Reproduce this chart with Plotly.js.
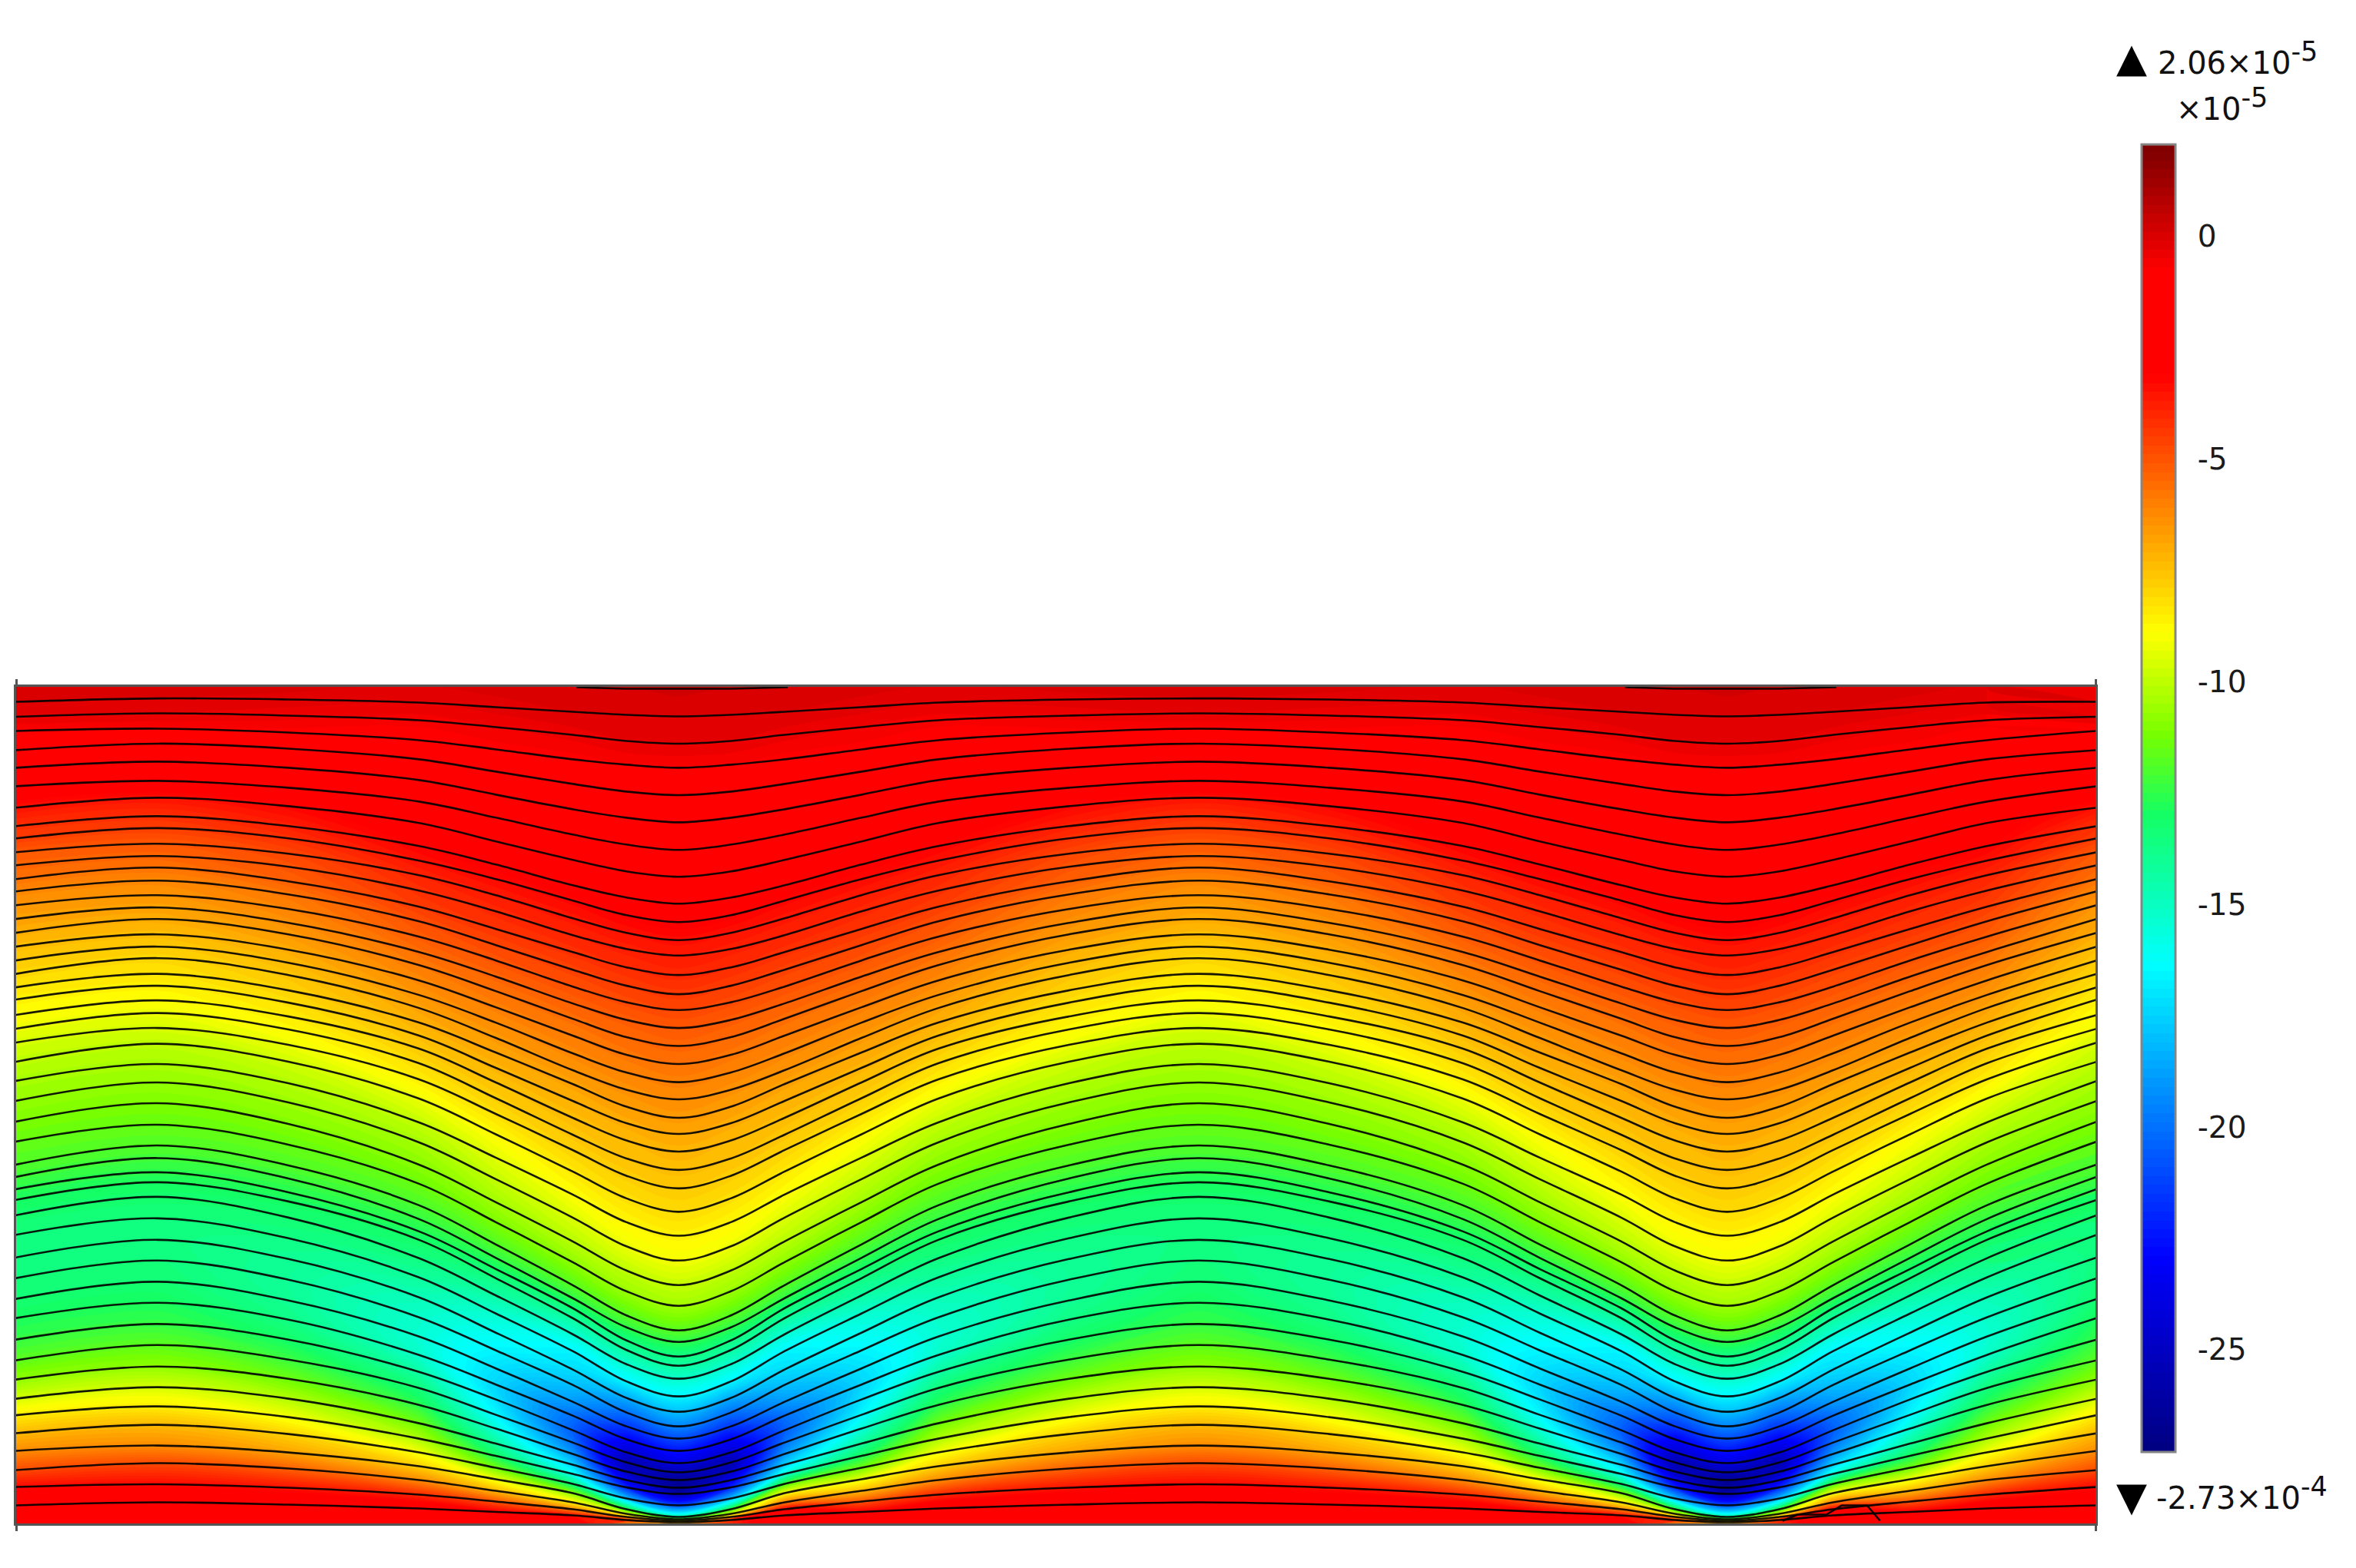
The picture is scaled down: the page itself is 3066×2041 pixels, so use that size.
<!DOCTYPE html>
<html>
<head>
<meta charset="utf-8">
<script src="https://cdn.plot.ly/plotly-3.0.1.min.js"></script>
<style>html,body{margin:0;padding:0;background:#fff}#chart{width:3066px;height:2041px}</style>
</head>
<body>
<div id="chart"></div>
<script>
// Horizontal stations along the domain
const stationX = [20,205,375,545,645,745,815,883,951,1021,1121,1221,1391,1560,1730,1904,2004,2110,2180,2248,2316,2386,2486,2586,2729];

// Vertical position of each of the 49 streamlines at the repeating stations
const lineEdge = [913,932.5,951,976,999,1023,1051,1075,1091,1109,1126,1144,1160,1178,1196,1214,1232,1250,1267.5,1285,1301,1321,1339,1357,1382,1407,1433,1460,1486,1516,1532,1548,1562,1582,1607.5,1637,1664,1691,1716,1744,1771,1796,1821,1842.5,1866,1889,1914,1936,1960];
const linePeak = [908.6,928,948,967.5,991,1016,1038,1062,1077.5,1098,1114,1129,1146,1165,1181,1196,1216,1232,1247,1267.5,1283,1302,1318.5,1338,1358.6,1385,1409,1436,1464,1491,1507.5,1526,1539,1558,1586,1614,1641,1668.6,1696,1723.6,1751,1779,1806,1831,1855,1882,1905,1932.5,1956];
const lineUpper = [910,931,953,974,999,1025,1049,1075,1091,1111,1128,1147,1164,1183,1201,1216,1236,1253,1269,1289,1305,1323,1340,1360,1382,1410,1435,1463,1490,1517,1534,1552,1564,1585,1612,1639,1666,1693,1718,1744,1770,1795,1821,1845,1867,1891,1912,1937,1959];
const lineFlank = [914,937,963,988,1015,1043,1071,1101,1120,1139,1159,1180,1199,1219,1239,1256,1276,1295,1312,1331,1348,1365,1384,1405,1430,1461,1487,1516,1541,1569,1587,1603,1614,1638,1663,1689,1715,1740,1764,1786,1807,1829,1853,1873,1891,1909,1927,1946,1964];
const lineLower = [920,946,975,1004,1034,1064,1095,1125,1144,1165,1186,1209,1230,1250,1271,1290,1311,1331,1351,1370,1390,1409,1429.5,1450,1476.5,1507,1535,1565,1591,1620,1637.5,1652,1664,1686.5,1710,1735,1758,1781.5,1802.5,1822,1842,1860,1879.5,1895.5,1911,1926,1941,1955,1968.5];
const lineShoulder = [926,956,988,1020,1053,1086,1119,1152,1172,1195,1217,1239,1262,1284,1306,1326,1348,1371,1393,1411,1433,1455,1477,1497,1525,1555,1585,1616,1643,1673,1690,1703,1716,1737,1759,1783,1803,1825,1843,1862,1878,1893,1907,1919,1932,1944,1956,1965,1973];
const lineInner = [930,964,995,1030,1064,1099,1134,1168,1191,1214,1235,1259,1283,1304.5,1327.5,1350,1373,1396,1418.5,1440.5,1462,1484.5,1508,1530.5,1560,1591,1622.5,1654,1681,1712.5,1728,1745,1757.5,1776,1798.5,1820,1839,1857,1874,1891,1904,1916,1927,1936.5,1951,1965,1971,1975,1979];
const lineTrough = [932,967.5,999,1034.6,1070,1106,1141,1176,1200,1223.6,1243.6,1269,1294,1314.6,1338,1361.4,1385,1408.6,1431,1455,1476,1499,1523,1547,1577.5,1608.6,1641,1673,1700,1732,1747,1766,1778,1795,1818,1838,1857,1873,1889,1905,1917,1927,1937,1945,1960,1975,1978,1980,1982];

// Field value (in units of 1e-5) on each streamline at the same stations
const valPeak = [-0.1,-0.3,-0.7,-1.2,-1.6,-2.3,-3.5,-4.2,-4.5,-5.1,-5.4,-5.7,-6.2,-6.5,-6.8,-7,-7.4,-7.7,-8,-8.3,-8.6,-8.9,-9.2,-9.6,-10,-10.4,-10.7,-11.1,-11.5,-11.9,-12.2,-12.6,-12.9,-13.2,-13.5,-13.6,-13.5,-13.3,-12.9,-12.4,-11.7,-10.8,-9.6,-8.5,-7.3,-6.3,-4.8,-3.3,-2];
const valUpper = [-0.2,-0.4,-0.8,-1.2,-1.6,-2.2,-3.2,-3.8,-4.2,-4.7,-5,-5.3,-5.8,-6.1,-6.4,-6.6,-7,-7.3,-7.6,-7.9,-8.2,-8.5,-8.8,-9.2,-9.7,-10.2,-10.6,-11,-11.5,-11.9,-12.3,-12.7,-13,-13.3,-13.7,-14,-14.1,-14,-13.7,-13.1,-12.3,-11.4,-10.2,-9.1,-7.9,-6.8,-5.3,-3.5,-2.1];
const valFlank = [-0.3,-0.6,-0.9,-1.2,-1.5,-2,-2.6,-3.1,-3.5,-3.9,-4.2,-4.5,-4.9,-5.2,-5.6,-5.9,-6.2,-6.5,-6.8,-7.1,-7.4,-7.7,-8.1,-8.5,-9.2,-9.9,-10.4,-10.9,-11.4,-12,-12.4,-12.8,-13.1,-13.6,-14.2,-14.8,-15.2,-15.4,-15.2,-14.4,-13.5,-12.6,-11.4,-10.3,-9.1,-7.8,-6.3,-4,-2.4];
const valLower = [-0.2,-0.5,-0.8,-1.1,-1.4,-1.9,-2.4,-2.9,-3.3,-3.7,-4,-4.3,-4.7,-5,-5.4,-5.7,-6,-6.3,-6.6,-6.9,-7.2,-7.5,-7.8,-8.2,-8.8,-9.4,-9.9,-10.5,-11.1,-11.9,-12.5,-13.1,-13.6,-14.4,-15.3,-16,-16.6,-17.1,-17.4,-17.1,-16.5,-15.5,-14.2,-12.9,-11.3,-9.2,-7.3,-5,-3];
const valShoulder = [-0.1,-0.4,-0.8,-1.1,-1.4,-1.8,-2.2,-2.7,-3.2,-3.6,-3.9,-4.2,-4.6,-4.9,-5.3,-5.6,-5.9,-6.2,-6.5,-6.8,-7.1,-7.4,-7.6,-7.9,-8.4,-8.9,-9.5,-10.1,-10.8,-11.8,-12.5,-13.4,-14.2,-15.4,-16.6,-17.2,-18,-19,-20,-20.5,-20,-19,-17.5,-16,-13.5,-11,-8.6,-6.2,-3.5];
const valShoulderRightLow = [-15.5,-12,-9,-6,-3,-1.7]; // lines 44 to 49 on the right of a trough
const valInner = [-0.1,-0.3,-0.7,-1,-1.3,-1.7,-2,-2.4,-3,-3.5,-3.8,-4.1,-4.5,-4.8,-5.2,-5.5,-5.8,-6.1,-6.4,-6.7,-7,-7.3,-7.5,-7.8,-8.2,-8.7,-9.2,-10,-10.6,-11.8,-12.5,-13.6,-14.3,-15.3,-16.6,-18.5,-20,-21.5,-23,-24.5,-25.5,-25,-23.5,-22,-18,-12,-9.5,-7,-4];
const valTrough = [-0.1,-0.3,-0.7,-1,-1.3,-1.6,-1.9,-2.3,-2.9,-3.4,-3.7,-4,-4.4,-4.7,-5.1,-5.4,-5.7,-6,-6.3,-6.6,-6.9,-7.2,-7.4,-7.7,-8.1,-8.6,-9.1,-9.9,-10.5,-11.8,-12.5,-13.7,-14.3,-15.2,-16.6,-18,-19.5,-21,-22.5,-24,-25.5,-26.5,-26.8,-26,-21,-14,-11,-9,-8];
// Field value along the top and bottom boundary: edge, peak, upper, flank, lower, shoulder, inner, trough
const valTop = [0,0,0,-0.1,0,0.1,0.1,0.2];
const valBottom = [-1.5,-1.5,-1.5,-1.5,-1.5,-2,-6.5,-7];
const valBottomInnerRight = -4;

// Small features
const capLeftX = [750,813,950,1025], capLeftY = [894,896,896,894];
const capRightX = [2115,2178,2315,2390], capRightY = [894,896,896,894];
const bumpX = [2320,2340,2377,2397,2430,2447], bumpY = [1980,1972,1972,1960,1960,1980];

// Colour bar
const zMin = -27.3, zMax = 2.06;
const tickVals = [0,-5,-10,-15,-20,-25];
const tickText = ['0','-5','-10','-15','-20','-25'];
const stopVals = [-27.3,-22.9,-16.3,-12.9,-11.1,-8.8,-3,-0.65,2.06];
const stopCols = ['rgb(0,0,128)','rgb(0,0,255)','rgb(0,255,255)','rgb(20,255,100)','rgb(120,255,0)','rgb(255,255,0)','rgb(255,0,0)','rgb(255,0,0)','rgb(128,0,0)'];

// Plot frame, in page pixels
const L = 20.5, R = 2727.5, T = 893.5, B = 1983.5;
const px = v => (v - L) / (R - L);
const py = v => (B - v) / (B - T);

const expand = (e,p,q,m,r,n,s,t,nr,sr) => [e,p,q,m,r,n,s,t,sr,nr,r,m,q,p,q,m,r,n,s,t,sr,nr,r,m,e];
const nLines = linePeak.length;
const lineRow = r => expand(lineEdge[r],linePeak[r],lineUpper[r],lineFlank[r],lineLower[r],lineShoulder[r],lineInner[r],lineTrough[r],lineShoulder[r],lineInner[r]);
const xGrid = [], yGrid = [], zGrid = [];
for (let r = -1; r <= nLines; r++) {
  xGrid.push(stationX);
  if (r === -1) {
    yGrid.push(stationX.map(() => 892));
    zGrid.push(expand(...valTop, valTop[5], valTop[6]));
  } else if (r === nLines) {
    yGrid.push(stationX.map(() => 1985));
    zGrid.push(expand(...valBottom, valBottom[5], valBottomInnerRight));
  } else {
    yGrid.push(lineRow(r));
    const low = r - (nLines - valShoulderRightLow.length);
    const nRight = low >= 0 ? valShoulderRightLow[low] : valShoulder[r];
    zGrid.push(expand(valPeak[r],valPeak[r],valUpper[r],valFlank[r],valLower[r],valShoulder[r],valInner[r],valTrough[r],nRight,valInner[r]));
  }
}
const aVals = stationX.map((_, i) => i);
const bVals = xGrid.map((_, i) => i);
const hiddenAxis = {showgrid:false, showline:false, showticklabels:'none', startline:false, endline:false, minorgridcount:0, smoothing:1, tickmode:'array', tickvals:[]};

const traces = [
  {type:'carpet', carpet:'field', a:aVals, b:bVals, x:xGrid, y:yGrid, aaxis:hiddenAxis, baxis:hiddenAxis, xaxis:'x', yaxis:'y'},
  {type:'contourcarpet', carpet:'field', a:aVals, b:bVals, z:zGrid, zauto:false, zmin:zMin, zmax:zMax,
   autocontour:false, contours:{start:zMin, end:zMax, size:0.2, coloring:'fill', showlines:false}, line:{width:0},
   colorscale: stopVals.map((v,i) => [(v - zMin)/(zMax - zMin), stopCols[i]]),
   colorbar:{thickness:44, thicknessmode:'pixels', len:1702, lenmode:'pixels', x:px(2788), xanchor:'left', xpad:0, y:py(187), yanchor:'top', ypad:0,
     outlinecolor:'#858585', outlinewidth:3, borderwidth:0, ticks:'outside', ticklen:20, tickwidth:1, tickcolor:'rgba(0,0,0,0)',
     tickmode:'array', tickvals:tickVals, ticktext:tickText,
     tickfont:{family:'DejaVu Sans', size:39, color:'#1a1a1a'}}}
];
for (let r = 0; r < nLines; r++) {
  traces.push({type:'scatter', mode:'lines', x:stationX, y:lineRow(r),
    line:{color:'rgba(0,0,0,0.9)', width:2.6, shape:'spline', smoothing:1}, hoverinfo:'skip', showlegend:false});
}
[[capLeftX,capLeftY],[capRightX,capRightY],[bumpX,bumpY]].forEach(([x,y]) => traces.push(
  {type:'scatter', mode:'lines', x, y, line:{color:'rgba(0,0,0,0.9)', width:2.6}, hoverinfo:'skip', showlegend:false}));

const txt = (text, x, y, size, xa) => ({text, x:px(x), y:py(y), xref:'paper', yref:'paper', xanchor:xa||'left', yanchor:'middle', showarrow:false,
  font:{family:'DejaVu Sans', size, color:'#111'}, align:'left', borderpad:0});
const sup = s => '<sup><span style="font-size:35px">' + s + '</span></sup>';

const unitPx = 57.88, zeroPx = 307;
const barMark = (v, x0, x1) => ({type:'line', xref:'paper', yref:'paper', x0:px(x0), x1:px(x1), y0:py(zeroPx - v*unitPx), y1:py(zeroPx - v*unitPx),
    line:{color:'rgba(0,0,0,0.75)', width:2}});
const layout = {
  width:3066, height:2041, paper_bgcolor:'#fff', plot_bgcolor:'#fff', showlegend:false,
  margin:{l:L, r:3066-R, t:T, b:2041-B, pad:0, autoexpand:false},
  xaxis:{range:[L,R], showgrid:false, zeroline:false, showline:true, linecolor:'#555', linewidth:3, mirror:'ticks',
    ticks:'outside', ticklen:7, tickwidth:3, tickcolor:'#555', tickmode:'array', tickvals:[L,R], showticklabels:false},
  yaxis:{range:[B,T], showgrid:false, zeroline:false, showline:true, linecolor:'#555', linewidth:3, mirror:true,
    ticks:'', showticklabels:false},
  annotations:[
    {...txt('\u25B2', 2775, 74, 52, 'center'), font:{family:'DejaVu Sans', size:52, color:'#000'}},
    txt('2.06×10' + sup('-5'), 2808, 75, 40),
    txt('×10' + sup('-5'), 2832, 135, 40),
    {...txt('\u25BC', 2775, 1948, 52, 'center'), font:{family:'DejaVu Sans', size:52, color:'#000'}},
    txt('-2.73×10' + sup('-4'), 2806, 1944, 40)
  ],
  shapes: tickVals.map(v => barMark(v, 2789, 2797)).concat(tickVals.map(v => barMark(v, 2823, 2831)))
};
Plotly.newPlot('chart', traces, layout, {displayModeBar:false, staticPlot:true});
</script>
</body>
</html>
